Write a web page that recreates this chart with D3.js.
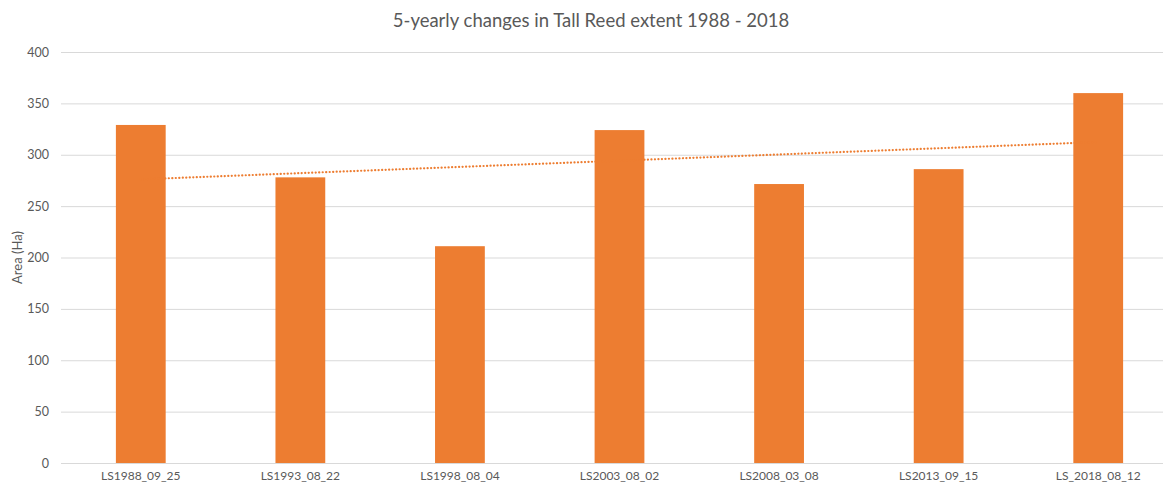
<!DOCTYPE html>
<html>
<head>
<meta charset="utf-8">
<script src="https://cdn.jsdelivr.net/npm/d3@7"></script>
<style>
  html, body { margin: 0; padding: 0; background: #fff; }
  svg { display: block; }
  text { font-family: Lato, "Open Sans", sans-serif; fill: #595959; }
</style>
</head>
<body>
<svg id="chart" width="1163" height="483"></svg>
<script>
// Tall Reed extent per Landsat scene (hectares)
const categories = ["LS1988_09_25", "LS1993_08_22", "LS1998_08_04", "LS2003_08_02", "LS2008_03_08", "LS2013_09_15", "LS_2018_08_12"];
const areaHa = [329, 278, 211, 324, 271.5, 286, 360];
const yTicks = [0, 50, 100, 150, 200, 250, 300, 350, 400];

const title = "5-yearly changes in Tall Reed extent 1988 - 2018";
const yLabel = "Area (Ha)";
const barColor = "#ED7D31";

const svg = d3.select("#chart");
const plot = { left: 61, right: 1178, top: 52, bottom: 463 };

const x = d3.scaleBand()
  .domain(categories)
  .range([plot.left, plot.right])
  .paddingInner(0.688)
  .paddingOuter(0.344);

const y = d3.scaleLinear()
  .domain([0, 400])
  .range([plot.bottom, plot.top]);

// gridlines + y tick labels
const yAxis = d3.axisLeft(y)
  .tickValues(yTicks)
  .tickSize(-(plot.right - plot.left))
  .tickPadding(12)
  .tickFormat(d3.format("d"));

const gy = svg.append("g")
  .attr("transform", `translate(${plot.left},0)`)
  .call(yAxis);
gy.select(".domain").remove();
gy.selectAll(".tick line").attr("stroke", "#d9d9d9").attr("stroke-width", 1);
gy.selectAll(".tick text").attr("font-size", 12.5).style("font-family", "Lato, sans-serif").attr("fill", "#595959");

// bars
svg.append("g").selectAll("rect")
  .data(categories.map((c, i) => ({ c, v: areaHa[i] })))
  .join("rect")
  .attr("x", d => x(d.c))
  .attr("width", x.bandwidth())
  .attr("y", d => y(d.v))
  .attr("height", d => y(0) - y(d.v))
  .attr("fill", barColor);

// linear trendline (least squares over category index)
const n = areaHa.length;
const idx = d3.range(1, n + 1);
const mx = d3.mean(idx), my = d3.mean(areaHa);
const slope = d3.sum(idx, (xi, i) => (xi - mx) * (areaHa[i] - my)) / d3.sum(idx, xi => (xi - mx) ** 2);
const intercept = my - slope * mx;
const trend = [
  { c: categories[0], v: intercept + slope * 1 },
  { c: categories[n - 1], v: intercept + slope * n }
];
svg.append("path")
  .datum(trend)
  .attr("d", d3.line().x(d => x(d.c) + x.bandwidth() / 2).y(d => y(d.v)))
  .attr("fill", "none")
  .attr("stroke", barColor)
  .attr("stroke-width", 2.2)
  .attr("stroke-linecap", "round")
  .attr("stroke-dasharray", "0.1 3.4");

// x axis baseline and category labels
const xAxis = d3.axisBottom(x).tickSize(0).tickPadding(8);
const gx = svg.append("g")
  .attr("transform", `translate(0,${plot.bottom})`)
  .call(xAxis);
gx.select(".domain").attr("stroke", "#d9d9d9");
gx.selectAll(".tick text").attr("font-size", 12).style("font-family", "Lato, sans-serif").attr("fill", "#595959");

// title
svg.append("text")
  .attr("x", 591)
  .attr("y", 27)
  .attr("text-anchor", "middle")
  .attr("font-size", 18.5)
  .style("fill", "#595959")
  .text(title);

// y axis title
svg.append("text")
  .attr("transform", `translate(22,${(plot.top + plot.bottom) / 2}) rotate(-90)`)
  .attr("text-anchor", "middle")
  .attr("font-size", 13)
  .text(yLabel);
</script>
</body>
</html>
